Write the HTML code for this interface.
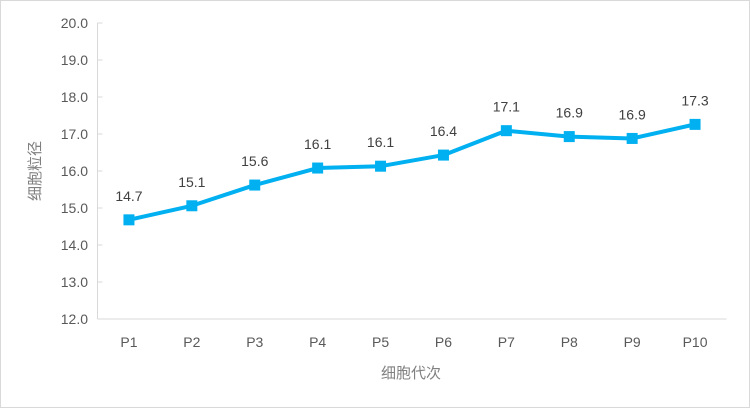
<!DOCTYPE html>
<html><head><meta charset="utf-8"><style>
body{margin:0;background:#fff}
svg{display:block;font-family:"Liberation Sans","Noto Sans CJK SC",sans-serif}
</style></head><body>
<svg width="750" height="408">
<rect x="0.5" y="0.5" width="749" height="407" fill="#fff" stroke="#d9d9d9"/>
<g id="axes"></g><g id="series"></g>
<text x="0" y="0" transform="translate(40,171) rotate(-90)" text-anchor="middle" font-size="15" fill="#808080">细胞粒径</text>
<text x="411" y="378" text-anchor="middle" font-size="15" fill="#808080">细胞代次</text>
</svg>
<script>
const categories=["P1","P2","P3","P4","P5","P6","P7","P8","P9","P10"];
const values=[14.68,15.06,15.62,16.08,16.13,16.43,17.09,16.93,16.88,17.26];
const labels=["14.7","15.1","15.6","16.1","16.1","16.4","17.1","16.9","16.9","17.3"];
const yTicks=[12,13,14,15,16,17,18,19,20];
const NS="http://www.w3.org/2000/svg";
const L=97.5,R=726.5,T=23,B=319,yMin=12,yMax=20;
const x=i=>L+(R-L)/categories.length*(i+0.5);
const y=v=>B-(v-yMin)/(yMax-yMin)*(B-T);
function mk(t,a,p){const e=document.createElementNS(NS,t);for(const k in a)e.setAttribute(k,a[k]);p.appendChild(e);return e;}
const ax=document.getElementById('axes'),se=document.getElementById('series');
let e=mk('line',{x1:L,y1:T,x2:L,y2:B,stroke:'#d9d9d9','stroke-width':1},ax);


e=mk('line',{x1:L,y1:B,x2:R,y2:B,stroke:'#d9d9d9','stroke-width':1},ax);


yTicks.forEach(v=>{
 const m=mk('line',{x1:L,y1:y(v),x2:L+5,y2:y(v),stroke:'#d9d9d9'},ax);
 
 
 const t=mk('text',{x:88,y:y(v)+5,'text-anchor':'end','font-size':14,fill:'#595959'},ax);
 t.textContent=v.toFixed(1);
 
 
});
categories.forEach((c,i)=>{
 const t=mk('text',{x:x(i),y:347,'text-anchor':'middle','font-size':14,fill:'#595959'},ax);
 t.textContent=c;
 
 
});
const pl=mk('polyline',{points:values.map((v,i)=>x(i)+','+y(v)).join(' '),fill:'none',stroke:'#00b0f0','stroke-width':4,'stroke-linejoin':'round'},se);


values.forEach((v,i)=>{
 const m=mk('rect',{x:x(i)-5.5,y:y(v)-5.5,width:11,height:11,fill:'#00b0f0'},se);
 
 
 const t=mk('text',{x:x(i),y:y(v)-19,'text-anchor':'middle','font-size':14,fill:'#404040'},se);
 t.textContent=labels[i];
 
 
});
</script>
</body></html>
